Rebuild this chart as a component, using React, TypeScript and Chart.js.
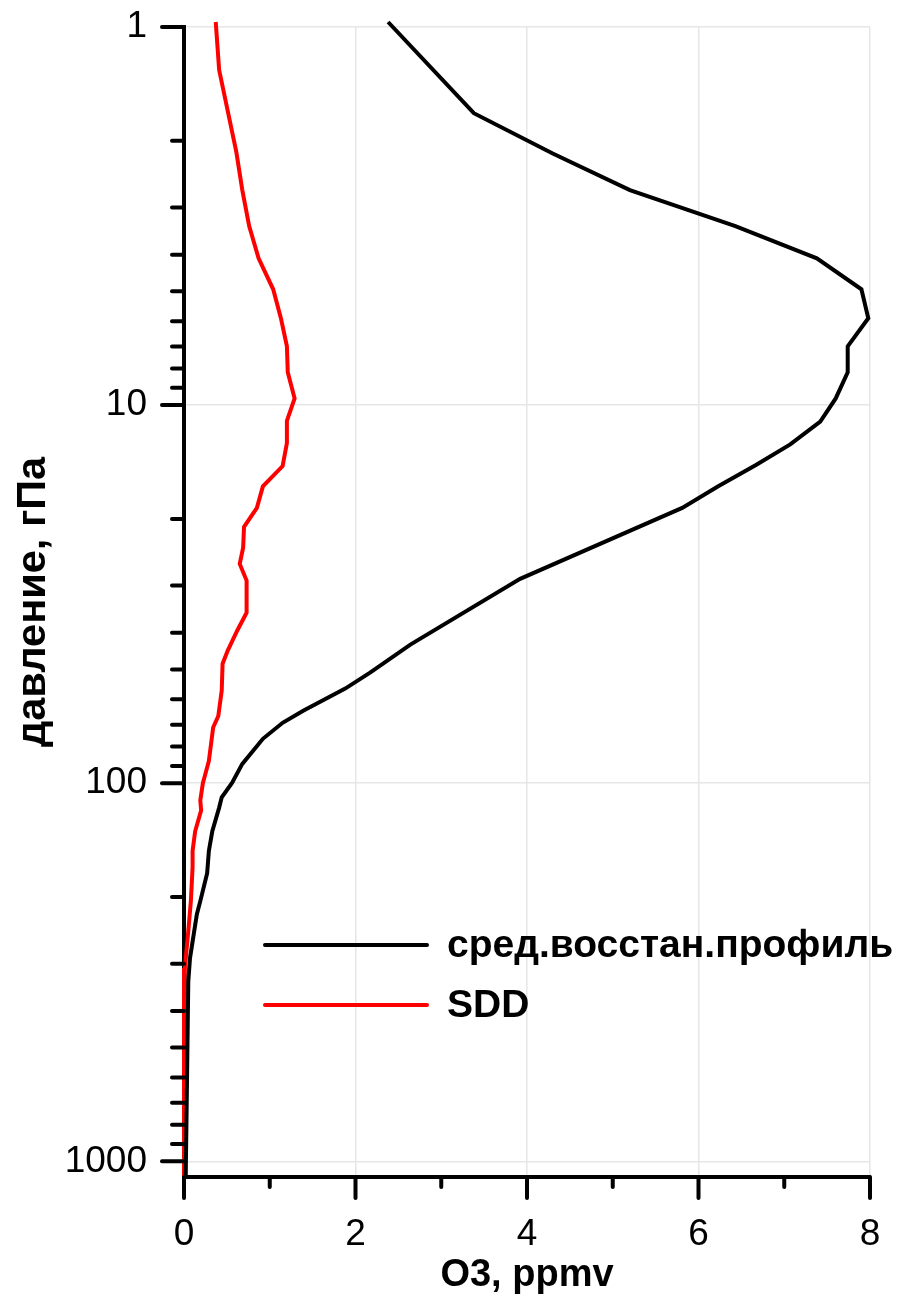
import { useEffect, useRef } from 'react';
import { Chart, registerables } from 'chart.js';

Chart.register(...registerables);

const FONT = '"Liberation Sans", Arial, sans-serif';

// Mean retrieved profile (сред.восстан.профиль): pressure (hPa) and O3 (ppmv)
const meanPressure = [0.97, 1.69, 2.16, 2.7, 3.36, 4.09, 4.94, 5.89, 6.99, 8.19, 9.6, 11.05, 12.7, 14.4, 16.4, 18.7, 28.8, 43, 51, 56.2, 64.3, 69.2, 76.3, 88.9, 99.8, 109, 116, 134, 151, 173, 205, 222, 290, 334, 614, 1100];
const meanO3 = [2.38, 3.38, 4.3, 5.2, 6.43, 7.38, 7.9, 7.98, 7.74, 7.74, 7.6, 7.42, 7.07, 6.67, 6.23, 5.81, 3.92, 2.64, 2.17, 1.88, 1.39, 1.15, 0.92, 0.68, 0.56, 0.44, 0.41, 0.33, 0.29, 0.27, 0.19, 0.15, 0.07, 0.05, 0.035, 0.02];

// SDD profile
const sddPressure = [0.97, 1.3, 2.14, 2.7, 3.36, 4.09, 4.94, 5.89, 6.99, 8.19, 9.6, 11.0, 12.6, 14.5, 16.4, 18.7, 21.0, 23.8, 26.3, 29.1, 35.4, 39.5, 44.6, 48.3, 56.9, 66.4, 71.2, 87.3, 100, 111, 118, 134, 151, 167, 205, 246, 308, 503, 1100];
const sddO3 = [0.37, 0.41, 0.61, 0.68, 0.76, 0.87, 1.04, 1.13, 1.2, 1.21, 1.29, 1.2, 1.2, 1.15, 0.92, 0.85, 0.7, 0.69, 0.65, 0.73, 0.73, 0.62, 0.51, 0.45, 0.44, 0.4, 0.34, 0.29, 0.22, 0.19, 0.2, 0.13, 0.1, 0.1, 0.08, 0.05, 0.01, 0.0, 0.0];

const seriesLabels = ['сред.восстан.профиль', 'SDD'];
const seriesColors = ['#000000', '#ff0000'];

const xTickValues = [0, 1, 2, 3, 4, 5, 6, 7, 8];
const xMajorTicks = [0, 2, 4, 6, 8];
const yTickValues = [1, 2, 3, 4, 5, 6, 7, 8, 9, 10, 20, 30, 40, 50, 60, 70, 80, 90, 100, 200, 300, 400, 500, 600, 700, 800, 900, 1000];
const yMajorTicks = [1, 10, 100, 1000];

const xTitle = 'O3, ppmv';
const yTitle = 'давление, гПа';

const isMajorY = (v: number) => yMajorTicks.includes(v);
const isMajorX = (v: number) => xMajorTicks.includes(v);

const customPlugin = {
  id: 'customDecor',
  afterDraw(chart: any) {
    const { ctx, scales } = chart;
    const x = scales.x;
    const y = scales.y;
    const area = chart.chartArea;
    ctx.save();
    ctx.strokeStyle = '#000';
    ctx.lineWidth = 4;
    ctx.lineCap = 'round';
    // y ticks
    for (const v of yTickValues) {
      const py = y.getPixelForValue(v);
      const len = isMajorY(v) ? 22 : 12;
      ctx.beginPath();
      ctx.moveTo(area.left - len, py);
      ctx.lineTo(area.left, py);
      ctx.stroke();
    }
    // x ticks
    for (const v of xTickValues) {
      const px = x.getPixelForValue(v);
      const len = isMajorX(v) ? 21 : 10;
      ctx.beginPath();
      ctx.moveTo(px, area.bottom);
      ctx.lineTo(px, area.bottom + len);
      ctx.stroke();
    }
    // legend
    const legendX0 = 265;
    const legendX1 = 427;
    const legendY = [945, 1005];
    ctx.font = `bold 39px ${FONT}`;
    ctx.textBaseline = 'middle';
    ctx.textAlign = 'left';
    seriesLabels.forEach((lab, i) => {
      ctx.strokeStyle = seriesColors[i];
      ctx.lineWidth = 4;
      ctx.beginPath();
      ctx.moveTo(legendX0, legendY[i]);
      ctx.lineTo(legendX1, legendY[i]);
      ctx.stroke();
      ctx.fillStyle = '#000';
      ctx.fillText(lab, 447, legendY[i] + 1);
    });
    ctx.restore();
  },
};

export default function App() {
  const ref = useRef<HTMLCanvasElement>(null);
  useEffect(() => {
    document.body.style.margin = '0';
    const canvas = ref.current;
    if (!canvas) return;
    Chart.defaults.font.family = FONT;
    const chart = new Chart(canvas, {
      type: 'scatter',
      data: {
        datasets: [
          {
            label: seriesLabels[0],
            data: meanO3.map((v, i) => ({ x: v, y: meanPressure[i] })),
            borderColor: seriesColors[0],
            backgroundColor: seriesColors[0],
            borderWidth: 4,
            showLine: true,
            pointRadius: 0,
            clip: false,
          },
          {
            label: seriesLabels[1],
            data: sddO3.map((v, i) => ({ x: v, y: sddPressure[i] })),
            borderColor: seriesColors[1],
            backgroundColor: seriesColors[1],
            borderWidth: 4,
            showLine: true,
            pointRadius: 0,
            clip: false,
          },
        ],
      },
      options: {
        responsive: false,
        animation: false,
        events: [],
        layout: { padding: { left: 0, right: 35, top: 27, bottom: 0 } },
        plugins: {
          legend: { display: false },
          tooltip: { enabled: false },
        },
        scales: {
          x: {
            type: 'linear',
            min: 0,
            max: 8,
            afterBuildTicks: (scale: any) => {
              scale.ticks = xTickValues.map((v) => ({ value: v }));
            },
            afterFit: (scale: any) => {
              scale.height = 120;
            },
            ticks: {
              autoSkip: false,
              maxRotation: 0,
              padding: 0,
              color: '#000',
              font: { size: 37, family: FONT },
              callback: (v: any) => (isMajorX(Number(v)) ? String(v) : ''),
            },
            grid: {
              drawTicks: true,
              tickLength: 36,
              tickColor: 'rgba(0,0,0,0)',
              color: (c: any) => (c.tick && isMajorX(c.tick.value) ? '#e6e6e6' : 'rgba(0,0,0,0)'),
              lineWidth: 1.5,
            },
            border: { display: true, color: '#000', width: 4 },
            title: {
              display: true,
              text: xTitle,
              color: '#000',
              font: { size: 38, weight: 'bold', family: FONT, lineHeight: 1 },
              padding: { top: 0, bottom: 2 },
            },
          },
          y: {
            type: 'logarithmic',
            min: 1,
            max: 1100,
            reverse: true,
            afterBuildTicks: (scale: any) => {
              scale.ticks = yTickValues.map((v) => ({ value: v }));
            },
            afterFit: (scale: any) => {
              scale.width = 184;
            },
            ticks: {
              autoSkip: false,
              padding: 0,
              color: '#000',
              font: { size: 37, family: FONT },
              callback: (v: any) => (isMajorY(Number(v)) ? String(v) : ''),
            },
            grid: {
              drawTicks: true,
              tickLength: 37,
              tickColor: 'rgba(0,0,0,0)',
              color: (c: any) => (c.tick && isMajorY(c.tick.value) ? '#e6e6e6' : 'rgba(0,0,0,0)'),
              lineWidth: 1.5,
            },
            border: { display: true, color: '#000', width: 4 },
            title: {
              display: true,
              text: yTitle,
              color: '#000',
              font: { size: 41.5, weight: 'bold', family: FONT, lineHeight: 1 },
              padding: { top: 13, bottom: 0 },
            },
          },
        },
      },
      plugins: [customPlugin],
    } as any);
    return () => chart.destroy();
  }, []);
  return (
    <div style={{ width: 905, height: 1297 }}>
      <canvas ref={ref} width={905} height={1297} style={{ display: 'block' }} />
    </div>
  );
}
